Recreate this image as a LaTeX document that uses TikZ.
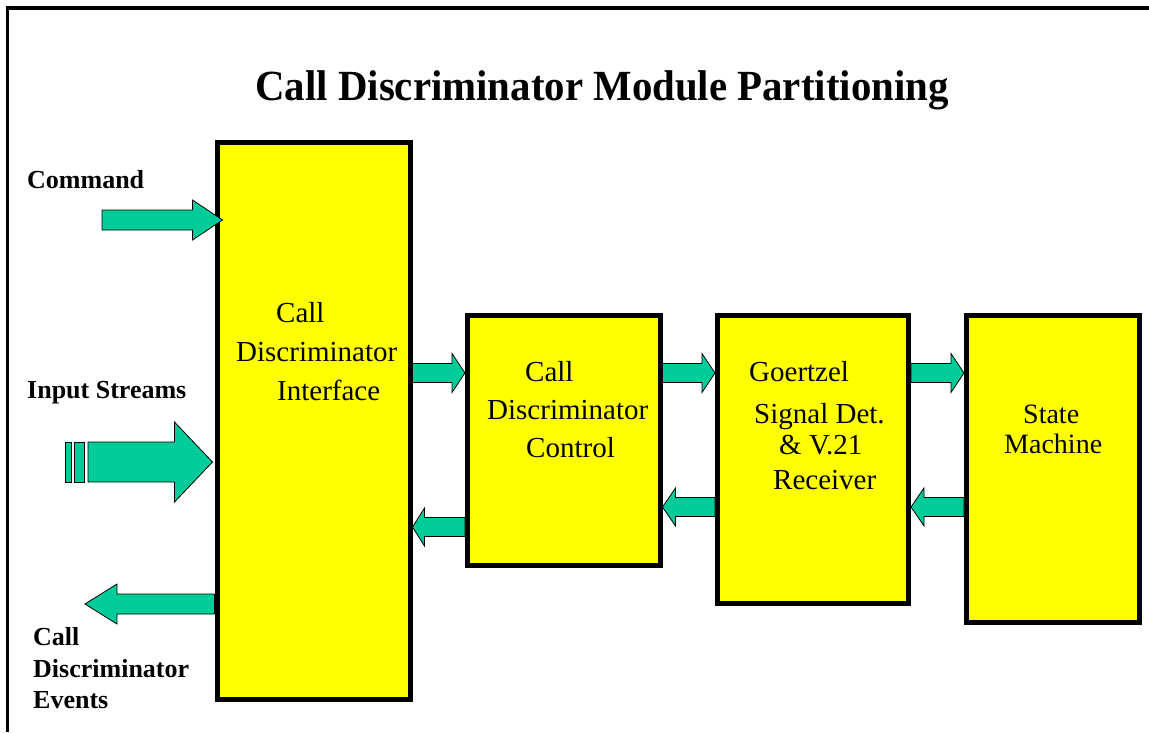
\documentclass[tikz,border=0pt]{standalone}
\usepackage{fontspec}
\setmainfont{Liberation Serif}
\usetikzlibrary{calc}

\definecolor{boxyellow}{RGB}{255,255,0}
\definecolor{flowgreen}{RGB}{0,204,153}

% Horizontal block arrow: #1 tail point, #2 tip point (same height),
% #3 half shaft width, #4 half head width, #5 head length
\newcommand\blockarrow[5]{%
  \draw[flow] let \p1=#1, \p2=#2, \n1={ifthenelse(\x2>\x1,1,-1)*#5} in
    (\x1,\y1+#3) -- (\x2-\n1,\y1+#3) -- (\x2-\n1,\y1+#4) -- (\x2,\y1)
    -- (\x2-\n1,\y1-#4) -- (\x2-\n1,\y1-#3) -- (\x1,\y1-#3) -- cycle;}

\begin{document}
\begin{tikzpicture}[x=1pt,y=-1pt,
  block/.style={draw=black, line width=5pt, fill=boxyellow, inner sep=0pt},
  flow/.style={draw=black, line width=0.8pt, fill=flowgreen, line join=miter},
  title/.style={font=\fontsize{43}{43}\selectfont\bfseries, anchor=base, inner sep=0pt, xscale=0.95},
  side/.style={font=\fontsize{26}{26}\selectfont\bfseries, anchor=base west, inner sep=0pt},
  lbl/.style={font=\fontsize{29}{29}\selectfont, anchor=base west, inner sep=0pt},
  smlbl/.style={font=\fontsize{28}{28}\selectfont, anchor=base west, inner sep=0pt}]

\useasboundingbox (0,0) rectangle (1149,732);
\fill[white] (0,0) rectangle (1149,732);

% frame along the top and the left
\draw[line width=3.8pt] (7.5,732) -- (7.5,8) -- (1149,8);

\node[title] (title) at (602,100) {Call Discriminator Module Partitioning};

% module blocks
\node[block, minimum width=193pt, minimum height=557pt] (ifc) at (313.5,420.5) {};
\node[block, minimum width=192.5pt, minimum height=250pt] (ctl) at (563.75,440) {};
\node[block, minimum width=191pt, minimum height=288pt] (goz) at (813,459) {};
\node[block, minimum width=173pt, minimum height=307.5pt] (stm) at (1053,468.75) {};

% block labels
\node[lbl] (ifc1) at (276,322) {Call};
\node[lbl] (ifc2) at (236,361) {Discriminator};
\node[lbl] (ifc3) at (277,400) {Interface};

\node[lbl] (ctl1) at (525,381) {Call};
\node[lbl] (ctl2) at (487,419) {Discriminator};
\node[lbl] (ctl3) at (526,457) {Control};

\node[lbl] (goz1) at (749,381) {Goertzel};
\node[lbl] (goz2) at (754,423) {Signal Det.};
\node[lbl] (goz3) at (779,454) {\& V.21};
\node[lbl] (goz4) at (773,489) {Receiver};

\node[smlbl] (stm1) at (1023,423) {State};
\node[smlbl] (stm2) at (1004,453) {Machine};

% external labels
\node[side] (cmd) at (27,188) {Command};
\node[side] (inp) at (27,398) {Input Streams};
\node[side] (ev1) at (33,645) {Call};
\node[side] (ev2) at (33,677) {Discriminator};
\node[side] (ev3) at (33,708) {Events};

% arrow levels and free ends
\coordinate (upper) at (0,373);
\coordinate (lower) at (0,507);
\coordinate (lowest) at (0,527);
\coordinate (cmdtail) at (102,220);
\coordinate (inptail) at (88,462);
\coordinate (evtip) at (85,604);

% external flows
\blockarrow{(cmdtail)}{($(ifc.west |- cmdtail)+(8,0)$)}{10}{20}{30}
\blockarrow{(inptail)}{($(ifc.west |- inptail)+(-2,0)$)}{20}{40}{38}
\draw[flow] (65,442) rectangle (71,482);
\draw[flow] (74,442) rectangle (84,482);
\blockarrow{(ifc.west |- evtip)}{(evtip)}{10}{20}{32}

% flows between blocks
\blockarrow{(ifc.east |- upper)}{(ctl.west |- upper)}{9.5}{19.5}{13}
\blockarrow{(ctl.east |- upper)}{(goz.west |- upper)}{9.5}{19.5}{13}
\blockarrow{(goz.east |- upper)}{(stm.west |- upper)}{9.5}{19.5}{13}
\blockarrow{(ctl.west |- lowest)}{(ifc.east |- lowest)}{9.5}{19}{12}
\blockarrow{(goz.west |- lower)}{(ctl.east |- lower)}{9.5}{19}{13}
\blockarrow{(stm.west |- lower)}{(goz.east |- lower)}{9.5}{19}{13}

\end{tikzpicture}
\end{document}
